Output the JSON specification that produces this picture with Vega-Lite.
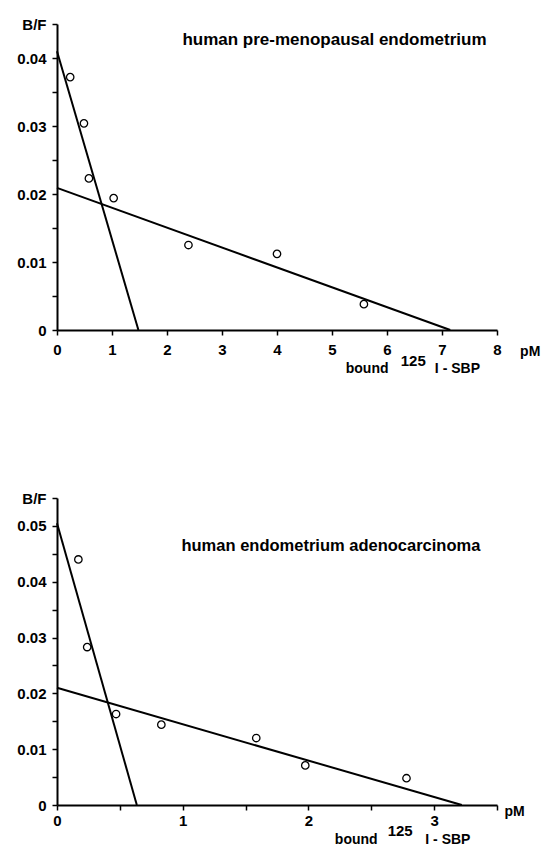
{
  "$schema": "https://vega.github.io/schema/vega-lite/v6.json",
  "background": "white",
  "padding": {"top": 17, "left": 16, "right": 0, "bottom": 0},
  "bounds": "flush",
  "spacing": 168,
  "config": {
    "view": {"stroke": null},
    "font": "Liberation Sans",
    "axis": {
      "domainColor": "black", "domainWidth": 2, "tickColor": "black", "tickWidth": 1.5, "tickSize": 5,
      "labelFont": "Liberation Sans", "labelFontWeight": "bold", "labelFontSize": 15, "labelColor": "black",
      "grid": false, "labelOverlap": false, "labelFlush": false, "labelBound": false, "title": null, "tickCount": 50
    },
    "axisX": {"labelPadding": 7},
    "axisY": {"labelPadding": 6},
    "text": {"font": "Liberation Sans", "fontWeight": "bold", "color": "black", "align": "left", "baseline": "alphabetic"}
  },
  "datasets": {
    "pts": [
      {"panel": "pre", "x": 0.24, "y": 0.0372},
      {"panel": "pre", "x": 0.49, "y": 0.0304},
      {"panel": "pre", "x": 0.58, "y": 0.0223},
      {"panel": "pre", "x": 1.03, "y": 0.0194},
      {"panel": "pre", "x": 2.39, "y": 0.0125},
      {"panel": "pre", "x": 4.0, "y": 0.0112},
      {"panel": "pre", "x": 5.58, "y": 0.0038},
      {"panel": "ade", "x": 0.17, "y": 0.044},
      {"panel": "ade", "x": 0.24, "y": 0.0283},
      {"panel": "ade", "x": 0.47, "y": 0.0163},
      {"panel": "ade", "x": 0.83, "y": 0.0144},
      {"panel": "ade", "x": 1.585, "y": 0.012},
      {"panel": "ade", "x": 1.975, "y": 0.0071},
      {"panel": "ade", "x": 2.78, "y": 0.0048}
    ],
    "fits": [
      {"panel": "pre", "line": "steep", "x": 0, "y": 0.041},
      {"panel": "pre", "line": "steep", "x": 1.48, "y": 0},
      {"panel": "pre", "line": "shallow", "x": 0, "y": 0.0209},
      {"panel": "pre", "line": "shallow", "x": 7.15, "y": 0},
      {"panel": "ade", "line": "steep", "x": 0, "y": 0.0505},
      {"panel": "ade", "line": "steep", "x": 0.635, "y": 0},
      {"panel": "ade", "line": "shallow", "x": 0, "y": 0.021},
      {"panel": "ade", "line": "shallow", "x": 3.22, "y": 0}
    ]
  },
  "vconcat": [
    {
      "width": 440,
      "height": 306,
      "layer": [
        {
          "data": {"name": "fits"},
          "transform": [{"filter": "datum.panel == 'pre'"}],
          "mark": {"type": "line", "color": "black", "strokeWidth": 2},
          "encoding": {
            "x": {"field": "x", "type": "quantitative", "scale": {"domain": [0, 8], "nice": false},
              "axis": {"values": [0, 1, 2, 3, 4, 5, 6, 7, 8], "format": "d", "tickCount": 50}},
            "y": {"field": "y", "type": "quantitative", "scale": {"domain": [0, 0.04501], "nice": false},
              "axis": {"values": [0, 0.005, 0.01, 0.015, 0.02, 0.025, 0.03, 0.035, 0.04, 0.045], "tickCount": 50,
                "labelExpr": "datum.value > 0.0445 ? 'B/F' : (datum.value == 0 ? '0' : (abs(datum.value * 100 - round(datum.value * 100)) < 0.01 ? format(datum.value, '.2f') : ''))"}},
            "detail": {"field": "line"}
          }
        },
        {
          "data": {"name": "pts"},
          "transform": [{"filter": "datum.panel == 'pre'"}],
          "mark": {"type": "point", "shape": "circle", "filled": false, "color": "black", "size": 55, "strokeWidth": 1.3, "opacity": 1},
          "encoding": {
            "x": {"field": "x", "type": "quantitative", "scale": {"domain": [0, 8], "nice": false}},
            "y": {"field": "y", "type": "quantitative", "scale": {"domain": [0, 0.04501], "nice": false}}
          }
        },
        {
          "data": {"values": [{}]},
          "mark": {"type": "text", "fontSize": 17},
          "encoding": {
            "x": {"datum": 2.28, "type": "quantitative", "scale": {"domain": [0, 8], "nice": false}},
            "y": {"datum": 0.0419, "type": "quantitative", "scale": {"domain": [0, 0.04501], "nice": false}},
            "text": {"value": "human pre-menopausal endometrium"}
          }
        },
        {
          "data": {"values": [{}]},
          "mark": {"type": "text", "fontSize": 14},
          "encoding": {
            "x": {"datum": 8.42, "type": "quantitative", "scale": {"domain": [0, 8], "nice": false}},
            "y": {"datum": -0.00376, "type": "quantitative", "scale": {"domain": [0, 0.04501], "nice": false}},
            "text": {"value": "pM"}
          }
        },
        {
          "data": {"values": [{}]},
          "mark": {"type": "text", "fontSize": 14},
          "encoding": {
            "x": {"datum": 5.25, "type": "quantitative", "scale": {"domain": [0, 8], "nice": false}},
            "y": {"datum": -0.00626, "type": "quantitative", "scale": {"domain": [0, 0.04501], "nice": false}},
            "text": {"value": "bound"}
          }
        },
        {
          "data": {"values": [{}]},
          "mark": {"type": "text", "fontSize": 15},
          "encoding": {
            "x": {"datum": 6.25, "type": "quantitative", "scale": {"domain": [0, 8], "nice": false}},
            "y": {"datum": -0.00523, "type": "quantitative", "scale": {"domain": [0, 0.04501], "nice": false}},
            "text": {"value": "125"}
          }
        },
        {
          "data": {"values": [{}]},
          "mark": {"type": "text", "fontSize": 14},
          "encoding": {
            "x": {"datum": 6.87, "type": "quantitative", "scale": {"domain": [0, 8], "nice": false}},
            "y": {"datum": -0.00626, "type": "quantitative", "scale": {"domain": [0, 0.04501], "nice": false}},
            "text": {"value": "I - SBP"}
          }
        }
      ]
    },
    {
      "width": 440,
      "height": 307,
      "layer": [
        {
          "data": {"name": "fits"},
          "transform": [{"filter": "datum.panel == 'ade'"}],
          "mark": {"type": "line", "color": "black", "strokeWidth": 2},
          "encoding": {
            "x": {"field": "x", "type": "quantitative", "scale": {"domain": [0, 3.5], "nice": false},
              "axis": {"values": [0, 0.5, 1, 1.5, 2, 2.5, 3, 3.5], "tickCount": 50, "labelPadding": 3,
                "labelExpr": "datum.value < 3.25 && datum.value == round(datum.value) ? format(datum.value, 'd') : ''"}},
            "y": {"field": "y", "type": "quantitative", "scale": {"domain": [0, 0.05501], "nice": false},
              "axis": {"values": [0, 0.005, 0.01, 0.015, 0.02, 0.025, 0.03, 0.035, 0.04, 0.045, 0.05, 0.055], "tickCount": 50,
                "labelExpr": "datum.value > 0.0545 ? 'B/F' : (datum.value == 0 ? '0' : (abs(datum.value * 100 - round(datum.value * 100)) < 0.01 ? format(datum.value, '.2f') : ''))"}},
            "detail": {"field": "line"}
          }
        },
        {
          "data": {"name": "pts"},
          "transform": [{"filter": "datum.panel == 'ade'"}],
          "mark": {"type": "point", "shape": "circle", "filled": false, "color": "black", "size": 55, "strokeWidth": 1.3, "opacity": 1},
          "encoding": {
            "x": {"field": "x", "type": "quantitative", "scale": {"domain": [0, 3.5], "nice": false}},
            "y": {"field": "y", "type": "quantitative", "scale": {"domain": [0, 0.05501], "nice": false}}
          }
        },
        {
          "data": {"values": [{}]},
          "mark": {"type": "text", "fontSize": 16.5},
          "encoding": {
            "x": {"datum": 0.99, "type": "quantitative", "scale": {"domain": [0, 3.5], "nice": false}},
            "y": {"datum": 0.04556, "type": "quantitative", "scale": {"domain": [0, 0.05501], "nice": false}},
            "text": {"value": "human endometrium adenocarcinoma"}
          }
        },
        {
          "data": {"values": [{}]},
          "mark": {"type": "text", "fontSize": 14},
          "encoding": {
            "x": {"datum": 3.56, "type": "quantitative", "scale": {"domain": [0, 3.5], "nice": false}},
            "y": {"datum": -0.002, "type": "quantitative", "scale": {"domain": [0, 0.05501], "nice": false}},
            "text": {"value": "pM"}
          }
        },
        {
          "data": {"values": [{}]},
          "mark": {"type": "text", "fontSize": 14},
          "encoding": {
            "x": {"datum": 2.21, "type": "quantitative", "scale": {"domain": [0, 3.5], "nice": false}},
            "y": {"datum": -0.00695, "type": "quantitative", "scale": {"domain": [0, 0.05501], "nice": false}},
            "text": {"value": "bound"}
          }
        },
        {
          "data": {"values": [{}]},
          "mark": {"type": "text", "fontSize": 15},
          "encoding": {
            "x": {"datum": 2.63, "type": "quantitative", "scale": {"domain": [0, 3.5], "nice": false}},
            "y": {"datum": -0.0055, "type": "quantitative", "scale": {"domain": [0, 0.05501], "nice": false}},
            "text": {"value": "125"}
          }
        },
        {
          "data": {"values": [{}]},
          "mark": {"type": "text", "fontSize": 14},
          "encoding": {
            "x": {"datum": 2.93, "type": "quantitative", "scale": {"domain": [0, 3.5], "nice": false}},
            "y": {"datum": -0.00695, "type": "quantitative", "scale": {"domain": [0, 0.05501], "nice": false}},
            "text": {"value": "I - SBP"}
          }
        }
      ]
    }
  ]
}
